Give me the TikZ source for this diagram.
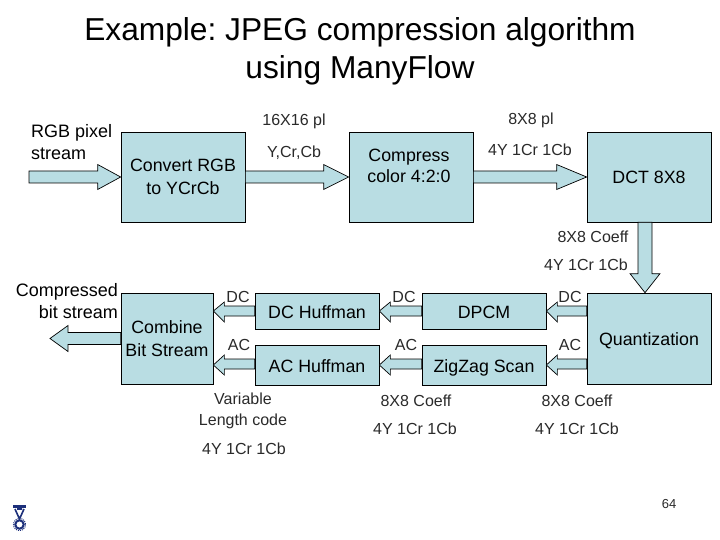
\documentclass[tikz,border=0pt]{standalone}
\usepackage{fontspec}
\setmainfont{Liberation Sans}
\usetikzlibrary{calc}
\definecolor{boxfill}{HTML}{B9DDE3}
\definecolor{labelgrey}{HTML}{2A2A2A}
\definecolor{logoblue}{HTML}{1C2F7A}
\frenchspacing
\newcommand{\blockarr}[4]{% start, tip, head length, half width of the shaft
  \draw[arrowshape] ($#1!#4!90:#2$) -- ($#2!#3!#1!#4!-90:#1$) -- ($#2!#3!#1!12.5pt!-90:#1$) -- #2
   -- ($#2!#3!#1!12.5pt!90:#1$) -- ($#2!#3!#1!#4!90:#1$) -- ($#1!#4!-90:#2$) -- cycle;}
\tikzset{
  x=1pt,y=-1pt,
  box/.style={draw=black,line width=0.7pt,fill=boxfill,inner sep=0pt,align=center,font=\fontsize{17.8}{22.5}\selectfont,text=black},
  lowtext/.style={text height=18pt,text depth=4pt},
  arrowshape/.style={draw=black,line width=0.7pt,fill=boxfill,line join=miter},
  lab/.style={inner sep=0pt,align=center,yshift=-0.7pt,font=\fontsize{16}{21}\selectfont,text=labelgrey},
  bold/.style={inner sep=0pt,font=\fontsize{18}{22}\selectfont,text=black},
  ttl/.style={inner sep=0pt,align=center,font=\fontsize{31.7}{38}\selectfont,text=black}
}
\begin{document}
\begin{tikzpicture}
\useasboundingbox[fill=white] (0,0) rectangle (720,540);
\node[ttl] (title) at (360,51) {Example: JPEG compression algorithm\\using ManyFlow};
% boxes
\node[box,minimum width=124pt,minimum height=90pt] (conv) at (183,177) {Convert RGB\\to YCrCb};
\node[box,minimum width=124pt,minimum height=90pt] (comp) at (411,177) {};
\node[box,minimum width=124pt,minimum height=90pt] (dct) at (649,177) {DCT 8X8};
\node[box,lowtext,minimum width=124pt,minimum height=91pt] (quant) at (649,338.5) {Quantization};
\node[box,lowtext,minimum width=124pt,minimum height=36pt] (dpcm) at (484,311) {DPCM};
\node[box,lowtext,minimum width=124pt,minimum height=40pt] (zig) at (484,365) {ZigZag Scan};
\node[box,lowtext,minimum width=124pt,minimum height=36pt] (dch) at (317,311) {DC Huffman};
\node[box,lowtext,minimum width=124pt,minimum height=40pt] (ach) at (317,365) {AC Huffman};
\node[box,minimum width=92pt,minimum height=91pt] (comb) at (167,338.5) {Combine\\Bit Stream};
\node[bold,align=center,font=\fontsize{17.8}{21.5}\selectfont] (complab) at (409,166) {Compress\\color 4:2:0};
% free ends
\coordinate (rgbstart) at (29,177);
\coordinate (outend) at (50,338.5);
\coordinate (dctout) at ($(dct.south)+(-4,0)$);
\coordinate (quantin) at ($(quant.north)+(-4,0)$);
% block arrows
\blockarr{(rgbstart)}{(conv.west)}{23pt}{6pt}
\blockarr{(conv.east)}{(comp.west)}{25pt}{6pt}
\blockarr{(comp.east)}{(dct.west)}{30pt}{6pt}
\draw[arrowshape] ($(dctout)+(-7,0)$) -- ($(quantin)+(-7,-19)$) -- ($(quantin)+(-15,-19)$) -- (quantin) -- ($(quantin)+(15,-19)$) -- ($(quantin)+(7,-19)$) -- ($(dctout)+(7,0)$) -- cycle;
\draw[arrowshape] (quant.west |- dpcm.east) -- ++(0,-5) -- ($(dpcm.east)+(11,-5)$) -- ($(dpcm.east)+(11,-9)$) -- (dpcm.east) -- ($(dpcm.east)+(11,11)$) -- ($(dpcm.east)+(11,5)$) -- ($(quant.west |- dpcm.east)+(0,5)$) -- cycle;
\draw[arrowshape] (quant.west |- zig.east) -- ++(0,-6) -- ($(zig.east)+(11,-6)$) -- ($(zig.east)+(11,-10)$) -- (zig.east) -- ($(zig.east)+(11,10)$) -- ($(zig.east)+(11,4)$) -- ($(quant.west |- zig.east)+(0,4)$) -- cycle;
\draw[arrowshape] (dpcm.west) -- ++(0,-5) -- ($(dch.east)+(11,-5)$) -- ($(dch.east)+(11,-9)$) -- (dch.east) -- ($(dch.east)+(11,11)$) -- ($(dch.east)+(11,5)$) -- ($(dpcm.west)+(0,5)$) -- cycle;
\draw[arrowshape] (zig.west) -- ++(0,-6) -- ($(ach.east)+(11,-6)$) -- ($(ach.east)+(11,-10)$) -- (ach.east) -- ($(ach.east)+(11,10)$) -- ($(ach.east)+(11,4)$) -- ($(zig.west)+(0,4)$) -- cycle;
\draw[arrowshape] (dch.west) -- ++(0,-5) -- ($(comb.east |- dch.west)+(11,-5)$) -- ($(comb.east |- dch.west)+(11,-9)$) -- (comb.east |- dch.west) -- ($(comb.east |- dch.west)+(11,11)$) -- ($(comb.east |- dch.west)+(11,5)$) -- ($(dch.west)+(0,5)$) -- cycle;
\draw[arrowshape] (ach.west) -- ++(0,-6) -- ($(comb.east |- ach.west)+(11,-6)$) -- ($(comb.east |- ach.west)+(11,-10)$) -- (comb.east |- ach.west) -- ($(comb.east |- ach.west)+(11,10)$) -- ($(comb.east |- ach.west)+(11,4)$) -- ($(ach.west)+(0,4)$) -- cycle;
\draw[arrowshape] (comb.west) -- ++(0,-6) -- ($(outend)+(18,-6)$) -- ($(outend)+(18,-13)$) -- (outend) -- ($(outend)+(18,13)$) -- ($(outend)+(18,6)$) -- ($(comb.west)+(0,6)$) -- cycle;
% bold side labels
\node[bold,align=left,anchor=west] (rgbl) at (31,142) {RGB pixel\\stream};
\node[bold,align=right,anchor=east] (cbl) at (118,301) {Compressed\\bit stream};
% labels
\node[lab] (l1) at (294,121) {16X16 pl};
\node[lab] (l2) at (294,152) {Y,Cr,Cb};
\node[lab] (l3) at (531,120) {8X8 pl};
\node[lab] (l4) at (530,149) {4Y 1Cr 1Cb};
\node[lab] (l5) at (593,236) {8X8 Coeff};
\node[lab] (l6) at (586,264) {4Y 1Cr 1Cb};
\node[lab] (l7) at (238,296) {DC};
\node[lab] (l8) at (239,344) {AC};
\node[lab] (l9) at (404,296) {DC};
\node[lab] (l10) at (406,344) {AC};
\node[lab] (l11) at (570,296) {DC};
\node[lab] (l12) at (570,344) {AC};
\node[lab] (l13) at (243,410) {Variable\\Length code};
\node[lab] (l14) at (244,448) {4Y 1Cr 1Cb};
\node[lab] (l15) at (416,400) {8X8 Coeff};
\node[lab] (l16) at (415,428) {4Y 1Cr 1Cb};
\node[lab] (l17) at (577,400) {8X8 Coeff};
\node[lab] (l18) at (577,428) {4Y 1Cr 1Cb};
\node[lab,font=\fontsize{13}{15}\selectfont] (pg) at (669,503) {64};
% logo
\fill[logoblue] (13,505) -- (26,505) -- (26,508) -- (13,508) -- cycle;
\draw[logoblue,line width=1.6pt] (15,509) -- (19.5,519) -- (24,509) (17,509) -- (22,509);
\draw[logoblue,line width=2pt] (19.5,524.5) circle (4.2);
\draw[logoblue,line width=1pt,dash pattern=on 1pt off 1pt] (19.5,524.5) circle (6);
\end{tikzpicture}
\end{document}
